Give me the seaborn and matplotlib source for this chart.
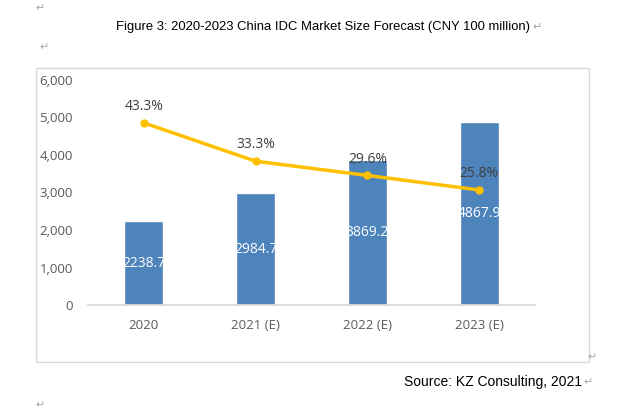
import matplotlib.pyplot as plt
import matplotlib.patches as patches
import seaborn as sns
from matplotlib.ticker import FuncFormatter

# --- data ---
years = ["2020", "2021 (E)", "2022 (E)", "2023 (E)"]
market_size = [2238.7, 2984.7, 3869.2, 4867.9]
growth_rate = [43.3, 33.3, 29.6, 25.8]

bar_color = "#4E84BC"
line_color = "#FFC000"
tick_color = "#595959"

sns.set_theme(style="white")
plt.rcParams['font.family'] = ['Liberation Sans', 'DejaVu Sans']

fig = plt.figure(figsize=(6.38, 4.16), dpi=100)

# chart frame like a word-embedded excel chart
frame = patches.Rectangle((0.0564, 0.1298), 0.8668, 0.7067, transform=fig.transFigure,
                          fill=False, edgecolor="#D9D9D9", linewidth=1)
fig.patches.append(frame)

ax = fig.add_axes([0.138, 0.2668, 0.7006, 0.541])
sns.barplot(x=years, y=market_size, color=bar_color, width=0.35, saturation=1, ax=ax)
ax.set_ylim(0, 6000)
ax.set_xlim(-0.5, 3.5)
ax.set_yticks(range(0, 6001, 1000))
ax.yaxis.set_major_formatter(FuncFormatter(lambda v, p: f"{int(v):,}"))
ax.set_xlabel("")
ax.set_ylabel("")
for s in ["top", "right", "left"]:
    ax.spines[s].set_visible(False)
ax.spines["bottom"].set_color("#D9D9D9")
ax.tick_params(axis="y", length=0, pad=11, labelcolor=tick_color)
ax.tick_params(axis="x", length=0, pad=10, labelcolor=tick_color)
for lab in ax.get_xticklabels() + ax.get_yticklabels():
    lab.set_family(['Open Sans', 'DejaVu Sans'])
    lab.set_fontsize(9.5)

for i, v in enumerate(market_size):
    ax.text(i, v / 2, f"{v}", ha="center", va="center", color="white",
            fontsize=10, family=['Open Sans', 'DejaVu Sans'])

# growth rate on hidden secondary axis
ax2 = ax.twinx()
sns.lineplot(x=list(range(len(years))), y=growth_rate, color=line_color, linewidth=2.5,
             marker="o", markersize=6, markeredgewidth=0, ax=ax2)
ax2.set_ylim(-4.2, 54.5)
ax2.set_xlim(-0.5, 3.5)
ax2.axis("off")
for i, g in enumerate(growth_rate):
    ax2.text(i, g + 2.3, f"{g}%", ha="center", va="bottom", color="#404040",
             fontsize=10, family=['Open Sans', 'DejaVu Sans'])

# title, source and word paragraph marks
fig.text(0.506, 0.935, "Figure 3: 2020-2023 China IDC Market Size Forecast (CNY 100 million)",
         ha="center", va="center", fontsize=9.4, color="black")
fig.text(0.913, 0.082, "Source: KZ Consulting, 2021", ha="right", va="center",
         fontsize=10, color="black")

mark = dict(fontsize=8, color="#A6A6A6", family=['DejaVu Sans'], va="center")
fig.text(0.055, 0.98, "\u21b5", **mark)
fig.text(0.062, 0.886, "\u21b5", **mark)
fig.text(0.835, 0.935, "\u21b5", **mark)
fig.text(0.921, 0.142, "\u21b5", **mark)
fig.text(0.914, 0.082, "\u21b5", **mark)
fig.text(0.055, 0.027, "\u21b5", **mark)

fig.savefig("out.png", dpi=100)
